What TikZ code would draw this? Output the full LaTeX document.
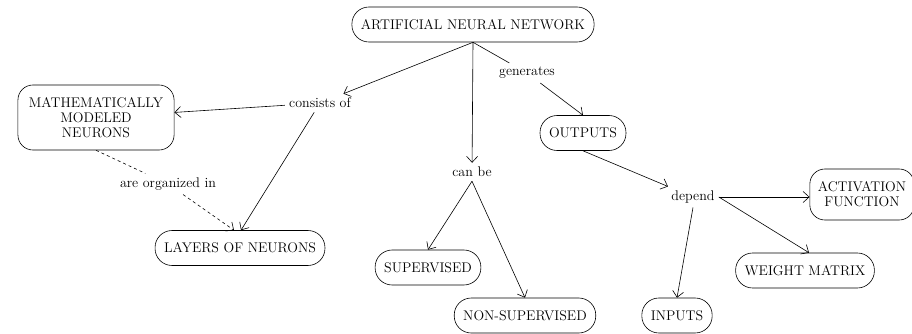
\documentclass[tikz,border=0pt]{standalone}
\usepackage{tikz}
\usetikzlibrary{arrows.meta}
\tikzset{
  concept/.style={draw, rounded corners=17pt, align=center, inner xsep=9pt, minimum height=35pt, font=\fontsize{14}{15}\selectfont},
  bigconcept/.style={concept, rounded corners=15pt, inner xsep=11pt},
  linkword/.style={inner sep=4pt, font=\fontsize{14}{15}\selectfont},
  arr/.style={-{Straight Barb[length=6pt,width=11pt]}}
}
\begin{document}
\begin{tikzpicture}[x=1pt,y=-1pt,line width=0.6pt]
\useasboundingbox (0,0) rectangle (912,334);
\node[concept] (ann) at (473,24.5) {ARTIFICIAL NEURAL NETWORK};
\node[bigconcept, minimum height=65pt] (math) at (96,117.5) {MATHEMATICALLY\\MODELED\\NEURONS};
\node[concept] (layers) at (240,248) {LAYERS OF NEURONS};
\node[concept] (sup) at (428,267.5) {SUPERVISED};
\node[concept] (nonsup) at (525,315.5) {NON-SUPERVISED};
\node[concept] (outputs) at (583,133) {OUTPUTS};
\node[bigconcept, inner xsep=8pt, minimum height=51pt] (act) at (862,194.5) {ACTIVATION\\FUNCTION};
\node[concept] (weight) at (805,270.5) {WEIGHT MATRIX};
\node[concept] (inputs) at (677,315.5) {INPUTS};

\node[linkword] (cons) at (320,103) {consists of};
\node[linkword] (org) at (168,184) {are organized in};
\node[linkword] (canbe) at (472,172) {can be};
\node[linkword] (gen) at (527,73) {generates};
\node[linkword] (dep) at (693,197) {depend};

\draw [arr] (ann.south) -- (cons);
\draw [arr] (cons) -- (math);
\draw [arr] (cons) -- ([xshift=1pt]layers.north);
\draw [dash pattern=on 3pt off 3pt] (math.south) -- (org);
\draw [dash pattern=on 3pt off 3pt, arr] (org) -- ([xshift=-6pt]layers.north);
\draw [arr] (ann.south) -- (canbe);
\draw [arr] (canbe.south) -- (sup.north);
\draw [arr] (canbe.south) -- (nonsup.north);
\draw (ann.south) -- (gen);
\draw [arr] (gen) -- (outputs.north);
\draw [arr] (outputs.south) -- (dep);
\draw [arr] (dep.east) -- (act.west |- dep.east);
\draw [arr] (dep.east) -- ([xshift=4pt]weight.north);
\draw [arr] (dep.south) -- (inputs.north);
\end{tikzpicture}
\end{document}
